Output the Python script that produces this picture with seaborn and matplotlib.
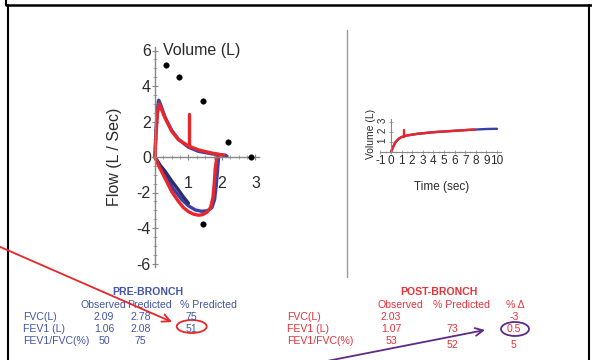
import matplotlib
matplotlib.use("Agg")
import numpy as np
import matplotlib.pyplot as plt
import seaborn as sns
from matplotlib.patches import Ellipse
from matplotlib.ticker import FixedLocator

# Flow-volume loop (volume L, flow L/s)
blue_exp_vol = [0, 0.03, 0.08, 0.11, 0.16, 0.3, 0.5, 0.7, 1.0, 1.3, 1.7, 2.1, 2.15]
blue_exp_flow = [0, 1.5, 2.8, 3.2, 3.0, 2.25, 1.5, 1.0, 0.55, 0.32, 0.18, 0.1, 0.05]
blue_insp_vol = [1.9, 1.87, 1.83, 1.78, 1.7, 1.58, 1.4, 1.2, 1.0, 0.8, 0.55, 0.3, 0.1, 0]
blue_insp_flow = [0, -0.7, -1.6, -2.4, -2.85, -3.02, -3.06, -2.98, -2.75, -2.4, -1.8, -1.05, -0.35, 0]
navy_vol = [0.05, 0.15, 0.3, 0.5, 0.7, 0.85, 1.0]
navy_flow = [-0.15, -0.45, -0.8, -1.35, -1.85, -2.25, -2.6]
red_exp_vol = [0, 0.03, 0.07, 0.12, 0.17, 0.3, 0.5, 0.7, 1.0, 1.3, 1.7, 2.0, 2.05]
red_exp_flow = [0, 1.2, 2.4, 3.0, 2.8, 2.2, 1.45, 0.98, 0.62, 0.4, 0.22, 0.12, 0.1]
red_insp_vol = [1.85, 1.8, 1.77, 1.73, 1.66, 1.55, 1.42, 1.3, 1.15, 1.0, 0.85, 0.7, 0.5, 0.3, 0.1, 0]
red_insp_flow = [0, -0.64, -1.5, -2.3, -2.85, -3.12, -3.25, -3.28, -3.22, -3.08, -2.85, -2.5, -1.95, -1.2, -0.45, 0]
red_spike_vol = [1.02, 1.02]
red_spike_flow = [0.58, 2.4]
pred_vol = [0.33, 0.72, 1.43, 2.18, 2.87, 1.43]
pred_flow = [5.2, 4.5, 3.15, 0.85, 0.0, -3.77]

# Volume-time curve (s, L)
blue_time = [0, 0.2, 0.4, 0.7, 1.0, 1.5, 2.5, 4, 5.7, 7.5, 9, 10]
blue_volume = [0, 0.5, 0.95, 1.3, 1.5, 1.65, 1.82, 1.98, 2.1, 2.22, 2.3, 2.32]
red_time = [0, 0.2, 0.4, 0.7, 1.0, 1.5, 2.5, 4, 5.7, 7.9]
red_volume = [0, 0.5, 0.95, 1.3, 1.5, 1.65, 1.82, 1.98, 2.1, 2.25]
red_tspike_time = [1.2, 1.2]
red_tspike_volume = [1.5, 2.2]

# Tables
pre_rows = ["FVC(L)", "FEV1 (L)", "FEV1/FVC(%)"]
pre_observed = ["2.09", "1.06", "50"]
pre_predicted = ["2.78", "2.08", "75"]
pre_pct = ["75", "51", ""]
post_rows = ["FVC(L)", "FEV1 (L)", "FEV1/FVC(%)"]
post_observed = ["2.03", "1.07", "53"]
post_pct_pred = ["", "73", "52"]
post_delta = ["-3", "0.5", "5"]

sns.set_style("white")
plt.rcParams["font.family"] = ["Liberation Sans", "DejaVu Sans"]
plt.rcParams["axes.unicode_minus"] = False

W, H = 592, 360
fig = plt.figure(figsize=(W / 100, H / 100), dpi=100)


def px_axes(x0, x1, y0, y1):
    return fig.add_axes([x0 / W, 1 - y1 / H, (x1 - x0) / W, (y1 - y0) / H])


RED = "#e8272b"
BLUE = "#3b3fa8"
NAVY = "#2b2d6e"
TXT = "#2a2a2a"

# ---- flow-volume loop ----
ax = px_axes(98, 265.5, 39.85, 274.15)
ax.set_xlim(-1.7, 3.3)
ax.set_ylim(-6.6, 6.6)
ax.patch.set_alpha(0)
kw = dict(sort=False, estimator=None, ax=ax, linewidth=2.4, legend=False)
sns.lineplot(x=blue_exp_vol, y=blue_exp_flow, color=BLUE, **kw)
sns.lineplot(x=blue_insp_vol, y=blue_insp_flow, color=BLUE, **kw)
sns.lineplot(x=navy_vol, y=navy_flow, color=NAVY, **kw)
sns.lineplot(x=red_exp_vol, y=red_exp_flow, color=RED, **kw)
sns.lineplot(x=red_insp_vol, y=red_insp_flow, color=RED, **kw)
sns.lineplot(x=red_spike_vol, y=red_spike_flow, color=RED, **kw)
sns.scatterplot(x=pred_vol, y=pred_flow, color="black", s=16, edgecolor=None, ax=ax, zorder=5)

for s in ["top", "right"]:
    ax.spines[s].set_visible(False)
ax.spines["left"].set_position(("data", 0))
ax.spines["bottom"].set_position(("data", 0))
ax.spines["left"].set_bounds(-6.2, 6.2)
ax.spines["bottom"].set_bounds(-0.1, 3.1)
for s in ["left", "bottom"]:
    ax.spines[s].set_color("#888888")
    ax.spines[s].set_linewidth(1)
ax.set_xticks([1, 2, 3])
ax.set_yticks([-6, -4, -2, 0, 2, 4, 6])
ax.xaxis.set_minor_locator(FixedLocator(np.arange(0.25, 3.01, 0.25)))
ax.yaxis.set_minor_locator(FixedLocator(np.arange(-6, 6.01, 0.5)))
ax.tick_params(axis="both", which="major", direction="inout", length=5, width=0.8,
               color="#888888", labelsize=11.5, labelcolor=TXT)
ax.tick_params(axis="both", which="minor", direction="inout", length=3, width=0.6, color="#999999")
ax.tick_params(axis="y", which="major", pad=0.5, left=True)
ax.tick_params(axis="x", which="major", pad=11, bottom=True)
ax.tick_params(axis="both", which="minor", left=True, bottom=True)
ax.text(0.25, 6.0, "Volume (L)", fontsize=11.5, color=TXT, va="center", ha="left")
ax.set_xlabel("")
ax.set_ylabel("")
fig.text(115 / W, 1 - 157 / H, "Flow (L / Sec)", rotation=90, fontsize=11.5,
         color=TXT, ha="center", va="center")

# ---- volume-time curve ----
ax2 = px_axes(377.2, 502.3, 118, 156)
ax2.set_xlim(-1.3, 10.5)
ax2.set_ylim(-0.4, 3.4)
ax2.patch.set_alpha(0)
kw2 = dict(sort=False, estimator=None, ax=ax2, linewidth=1.7, legend=False)
sns.lineplot(x=blue_time, y=blue_volume, color=BLUE, **kw2)
sns.lineplot(x=red_time, y=red_volume, color=RED, **kw2)
sns.lineplot(x=red_tspike_time, y=red_tspike_volume, color=RED, **kw2)
for s in ["top", "right"]:
    ax2.spines[s].set_visible(False)
ax2.spines["left"].set_position(("data", 0))
ax2.spines["bottom"].set_position(("data", 0))
ax2.spines["left"].set_bounds(0, 3.3)
ax2.spines["bottom"].set_bounds(-1, 10.4)
for s in ["left", "bottom"]:
    ax2.spines[s].set_color("#888888")
    ax2.spines[s].set_linewidth(0.8)
ax2.set_xticks(list(range(-1, 11)))
ax2.set_yticks([1, 2, 3])
ax2.xaxis.set_minor_locator(FixedLocator(np.arange(-1, 10.01, 0.5)))
ax2.tick_params(axis="both", which="major", direction="inout", length=3, width=0.6,
                color="#999999", labelcolor=TXT)
ax2.tick_params(axis="x", which="major", labelsize=8.5, pad=1, bottom=True)
ax2.tick_params(axis="y", which="major", labelsize=7, pad=1, left=True, labelrotation=90)
ax2.tick_params(axis="x", which="minor", direction="inout", length=2, width=0.5,
                color="#aaaaaa", bottom=True)
ax2.set_xlabel("")
ax2.set_ylabel("")
fig.text(371 / W, 1 - 134 / H, "Volume (L)", rotation=90, fontsize=7.5,
         color=TXT, ha="center", va="center")
fig.text(442 / W, 1 - 187 / H, "Time (sec)", fontsize=8.5, color=TXT, ha="center", va="center")

# ---- overlay: frame, tables, annotations ----
ov = fig.add_axes([0, 0, 1, 1])
ov.set_xlim(0, W)
ov.set_ylim(H, 0)
ov.axis("off")
ov.plot([6, 6], [0, 5], color="black", lw=1.5)
ov.plot([6, 592], [5, 5], color="black", lw=1.8)
ov.plot([8, 8], [5, 360], color="black", lw=1.5)
ov.plot([589, 589], [5, 360], color="black", lw=1.5)
ov.plot([346.5, 346.5], [30, 277], color="#9a9a9a", lw=1)

PBLUE = "#4455a8"
PRED = "#e8323a"
FS = 7.6
ov.text(147.7, 292, "PRE-BRONCH", color=PBLUE, fontsize=FS, fontweight="bold", ha="center", va="center")
for x, t in zip([103, 149, 208], ["Observed", "Predicted", "% Predicted"]):
    ov.text(x, 305, t, color=PBLUE, fontsize=FS, ha="center", va="center")
for i, y in enumerate([317, 328.5, 341]):
    ov.text(23, y, pre_rows[i], color=PBLUE, fontsize=FS, ha="left", va="center")
    ov.text(104, y, pre_observed[i], color=PBLUE, fontsize=FS, ha="center", va="center")
    ov.text(140.7, y, pre_predicted[i], color=PBLUE, fontsize=FS, ha="center", va="center")
    ov.text(191.7, y, pre_pct[i], color=PBLUE, fontsize=FS, ha="center", va="center")

ov.text(439.3, 292, "POST-BRONCH", color=PRED, fontsize=FS, fontweight="bold", ha="center", va="center")
for x, t in zip([400, 461.7, 515], ["Observed", "% Predicted", "% Δ"]):
    ov.text(x, 305, t, color=PRED, fontsize=FS, ha="center", va="center")
for i, y in enumerate([317, 329, 341]):
    y2 = y + 4 if i == 2 else y
    ov.text(287, y, post_rows[i], color=PRED, fontsize=FS, ha="left", va="center")
    ov.text(391, y, post_observed[i], color=PRED, fontsize=FS, ha="center", va="center")
    ov.text(452.3, y2, post_pct_pred[i], color=PRED, fontsize=FS, ha="center", va="center")
    ov.text(514, y2, post_delta[i], color=PRED, fontsize=FS, ha="center", va="center")

ov.annotate("", xy=(172, 322), xytext=(-2, 246),
            arrowprops=dict(arrowstyle="->", color="#e8262a", lw=1.3, mutation_scale=14,
                            shrinkA=0, shrinkB=0))
ov.add_patch(Ellipse((191.7, 326.5), 30, 13, fill=False, edgecolor="#e8262a", lw=1.3))
ov.annotate("", xy=(485, 330), xytext=(322, 362),
            arrowprops=dict(arrowstyle="->", color="#5e2a84", lw=1.3, mutation_scale=14,
                            shrinkA=0, shrinkB=0))
ov.add_patch(Ellipse((515, 329), 28, 14, fill=False, edgecolor="#5e2a84", lw=1.3))

fig.savefig("out.png", dpi=100)
